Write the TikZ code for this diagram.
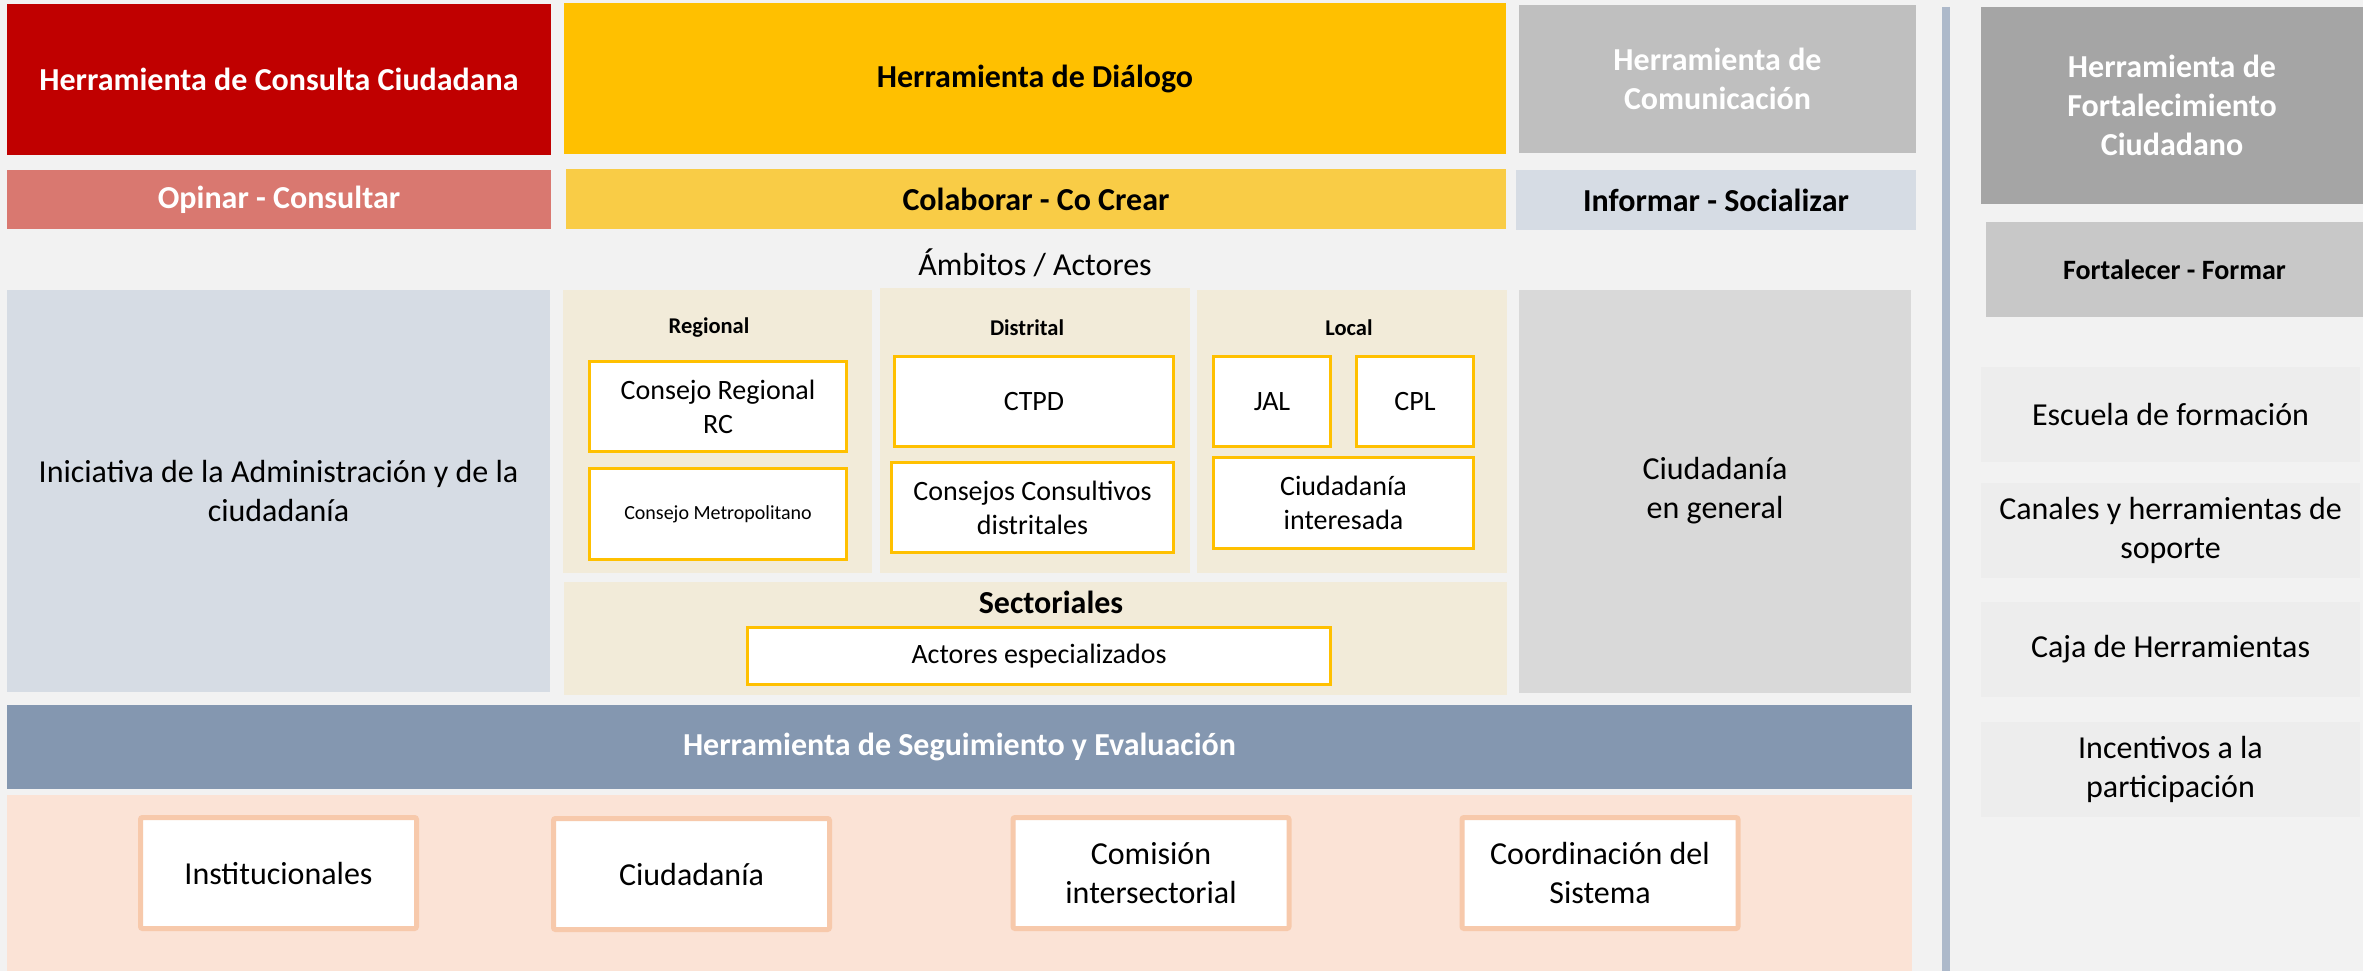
\documentclass[tikz,border=0pt]{standalone}
\usepackage{fontspec}
\setmainfont{Carlito}
\definecolor{bgc}{HTML}{F2F2F2}
\definecolor{redc}{HTML}{C00000}
\definecolor{yelc}{HTML}{FFC000}
\definecolor{comc}{HTML}{BFBFBF}
\definecolor{forc}{HTML}{A5A5A5}
\definecolor{opic}{HTML}{D97870}
\definecolor{colc}{HTML}{F9CC46}
\definecolor{infc}{HTML}{D6DCE4}
\definecolor{fmc}{HTML}{C8C8C8}
\definecolor{beic}{HTML}{F2EBD9}
\definecolor{cgc}{HTML}{D9D9D9}
\definecolor{segc}{HTML}{8497B0}
\definecolor{peac}{HTML}{FBE3D6}
\definecolor{peab}{HTML}{F7C9AB}
\definecolor{rbc}{HTML}{EDEDED}
\definecolor{vlc}{HTML}{ADB9CA}
\begin{document}
\begin{tikzpicture}[x=1pt,y=-1pt,
  box/.style={inner sep=0pt, outer sep=0pt, align=center, text=black},
  fa/.style={font=\fontsize{32}{39}\selectfont},
  fab/.style={font=\fontsize{32}{39}\selectfont\bfseries},
  fb/.style={font=\fontsize{28}{34}\selectfont},
  fbb/.style={font=\fontsize{28}{34}\selectfont\bfseries},
  fcb/.style={font=\fontsize{22.5}{27}\selectfont\bfseries},
  fd/.style={font=\fontsize{20}{24}\selectfont},
  ybox/.style={box, fill=white, draw=yelc, line width=3.5pt, fb},
  pbox/.style={box, fill=white, draw=peab, line width=5pt, rounded corners=2pt, fa,
    minimum width=276pt, minimum height=111pt},
  rbox/.style={box, fill=rbc, fa, minimum width=379pt, minimum height=95pt}
]
\useasboundingbox (0,0) rectangle (2363,971);
\fill[bgc] (0,0) rectangle (2363,971);

% top row
\node[box, fill=redc, text=white, fab, minimum width=544pt, minimum height=151pt] (hcc) at (279,79.5) {Herramienta de Consulta Ciudadana};
\node[box, fill=yelc, fab, minimum width=942pt, minimum height=151pt] (hd) at (1035,78.5) {Herramienta de Diálogo};
\node[box, fill=comc, text=white, fab, minimum width=397pt, minimum height=148pt] (hc) at (1717.5,79) {Herramienta de\\Comunicación};
\node[box, fill=forc, text=white, fab, minimum width=382pt, minimum height=197pt] (hf) at (2172,105.5) {Herramienta de\\Fortalecimiento\\Ciudadano};

% second row
\node[box, fill=opic, text=white, fab, minimum width=544pt, minimum height=59pt] (opi) at (279,199.5) {Opinar - Consultar};
\node[box, fill=colc, fab, minimum width=940pt, minimum height=60pt] (col) at (1036,199) {Colaborar - Co Crear};
\node[box, fill=infc, fab, minimum width=400pt, minimum height=60pt] (inf) at (1716,200) {Informar - Socializar};
\node[box, fill=fmc, fbb, minimum width=377pt, minimum height=95pt] (ffo) at (2174.5,269.5) {Fortalecer - Formar};

\node[box, fa] (amb) at (1035,263) {Ámbitos / Actores};

% middle
\node[box, fill=infc, fa, minimum width=543pt, minimum height=402pt] (ini) at (278.5,491) {Iniciativa de la Administración y de la\\ciudadanía};
\node[box, fill=beic, minimum width=309pt, minimum height=283pt] (reg) at (717.5,431.5) {};
\node[box, fill=beic, minimum width=310pt, minimum height=285pt] (dis) at (1035,430.5) {};
\node[box, fill=beic, minimum width=310pt, minimum height=283pt] (loc) at (1352,431.5) {};
\node[box, fcb] (regl) at (709,328) {Regional};
\node[box, fcb] (disl) at (1027,328) {Distrital};
\node[box, fcb] (locl) at (1349,328) {Local};

\node[ybox, minimum width=257pt, minimum height=90pt] (crrc) at (718,406.5) {Consejo Regional\\RC};
\node[ybox, fd, minimum width=257pt, minimum height=91pt] (cm) at (718,514) {Consejo Metropolitano};
\node[ybox, minimum width=279pt, minimum height=90pt] (ctpd) at (1034,401.5) {CTPD};
\node[ybox, minimum width=282pt, minimum height=90pt] (ccd) at (1032.5,507.5) {Consejos Consultivos\\distritales};
\node[ybox, minimum width=117pt, minimum height=90pt] (jal) at (1272,401.5) {JAL};
\node[ybox, minimum width=117pt, minimum height=90pt] (cpl) at (1415,401.5) {CPL};
\node[ybox, minimum width=260pt, minimum height=91pt] (ci) at (1343.5,503) {Ciudadanía\\interesada};

\node[box, fill=beic, minimum width=943pt, minimum height=113pt] (sec) at (1035.5,638.5) {};
\node[box, fab] (secl) at (1051,602) {Sectoriales};
\node[ybox, minimum width=583pt, minimum height=57pt] (act) at (1039,656) {Actores especializados};

\node[box, fill=cgc, fa, minimum width=392pt, minimum height=403pt] (cg) at (1715,491) {Ciudadanía\\en general};

% bottom
\node[box, fill=segc, text=white, fab, minimum width=1905pt, minimum height=84pt] (seg) at (959.5,747) {Herramienta de Seguimiento y Evaluación};
\node[box, fill=peac, minimum width=1905pt, minimum height=176pt] (pea) at (959.5,883) {};
\node[pbox] (ins) at (278.5,873) {Institucionales};
\node[pbox] (ciu) at (691.5,874) {Ciudadanía};
\node[pbox] (com) at (1151,873) {Comisión\\intersectorial};
\node[pbox] (coo) at (1600,873) {Coordinación del\\Sistema};

% separator
\coordinate (vtop) at (1946,7);
\coordinate (vbot) at (1946,971);
\draw[vlc, line width=8pt] (vtop) -- (vbot);

% right column
\node[rbox] (esc) at (2170.5,414.5) {Escuela de formación};
\node[rbox] (can) at (2170.5,530.5) {Canales y herramientas de\\soporte};
\node[rbox] (caj) at (2170.5,649.5) {Caja de Herramientas};
\node[rbox] (inc) at (2170.5,769.5) {Incentivos a la\\participación};
\end{tikzpicture}
\end{document}
